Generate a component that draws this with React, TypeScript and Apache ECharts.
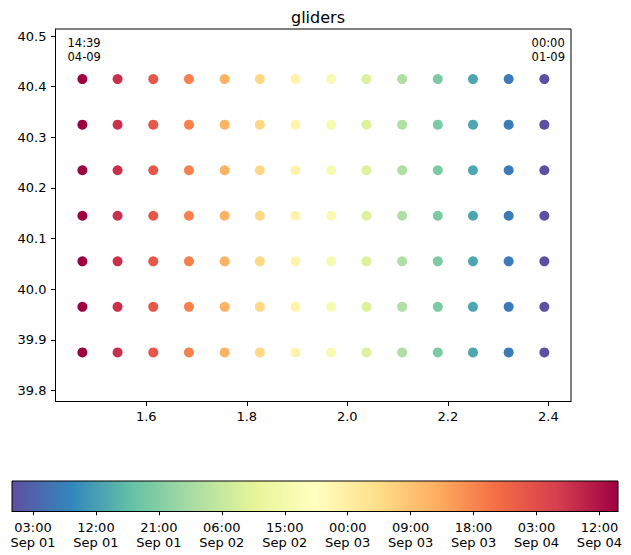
import React, { useEffect, useRef } from "react";
import * as echarts from "echarts";

// ---- data ----
const lons = [1.473, 1.543, 1.614, 1.685, 1.756, 1.826, 1.897, 1.968, 2.038, 2.109, 2.18, 2.25, 2.321, 2.392];
const lats = [39.875, 39.965, 40.055, 40.145, 40.235, 40.325, 40.415];
// time of each column (left to right)
const colTimes = [
  "Sep 04 14:39", "Sep 04 07:59", "Sep 04 01:19", "Sep 03 18:39", "Sep 03 11:59", "Sep 03 05:19", "Sep 02 22:40",
  "Sep 02 15:59", "Sep 02 09:20", "Sep 02 02:40", "Sep 01 20:00", "Sep 01 13:20", "Sep 01 06:40", "Sep 01 00:00",
];
const timeMin = "Sep 01 00:00";
const timeMax = "Sep 04 14:39";
const xTicks = [1.6, 1.8, 2.0, 2.2, 2.4];
const yTicks = [39.8, 39.9, 40.0, 40.1, 40.2, 40.3, 40.4, 40.5];
const cbTickTimes = [
  "Sep 01 03:00", "Sep 01 12:00", "Sep 01 21:00", "Sep 02 06:00", "Sep 02 15:00",
  "Sep 03 00:00", "Sep 03 09:00", "Sep 03 18:00", "Sep 04 03:00", "Sep 04 12:00",
];
const cbTickLabels = [
  "03:00\nSep 01", "12:00\nSep 01", "21:00\nSep 01", "06:00\nSep 02", "15:00\nSep 02",
  "00:00\nSep 03", "09:00\nSep 03", "18:00\nSep 03", "03:00\nSep 04", "12:00\nSep 04",
];
const titleText = "gliders";
const leftCornerLabel = "14:39\n04-09";
const rightCornerLabel = "00:00\n01-09";
const spectralR = [
  "#5e4fa2", "#3288bd", "#66c2a5", "#abdda4", "#e6f598", "#ffffbf",
  "#fee08b", "#fdae61", "#f46d43", "#d53e4f", "#9e0142",
];

function hoursSinceStart(s: string): number {
  const parts = s.split(" ");
  const day = Number(parts[1]);
  const [h, m] = parts[2].split(":").map(Number);
  return (day - 1) * 24 + h + m / 60;
}

const FONT = "DejaVu Sans";

export default function App() {
  const ref = useRef<HTMLDivElement>(null);
  useEffect(() => {
    if (!ref.current) return;
    const chart = echarts.init(ref.current, null, { renderer: "svg" });
    const tMin = hoursSinceStart(timeMin);
    const tMax = hoursSinceStart(timeMax);
    const cbHours = cbTickTimes.map(hoursSinceStart);

    const points: number[][] = [];
    lats.forEach((lat) => {
      lons.forEach((lon, i) => {
        points.push([lon, lat, hoursSinceStart(colTimes[i])]);
      });
    });

    const gradStops = spectralR.map((c, i) => ({ offset: i / (spectralR.length - 1), color: c }));

    chart.setOption({
      animation: false,
      backgroundColor: "#fff",
      title: {
        text: titleText,
        left: 313,
        textAlign: "center",
        top: 4,
        textStyle: { fontFamily: FONT, fontSize: 16, fontWeight: "normal", color: "#000" },
      },
      grid: [
        { left: 55.5, top: 29, width: 515.5, height: 372.5, show: true, borderColor: "#000", borderWidth: 1, backgroundColor: "transparent" },
        { left: 12, top: 481, width: 606, height: 30.5, show: false },
      ],
      xAxis: [
        {
          gridIndex: 0,
          type: "value",
          min: 1.4195,
          max: 2.445,
          axisLine: { show: true, lineStyle: { color: "#000", width: 1 } },
          axisTick: { show: true, length: 4.5, customValues: xTicks, lineStyle: { color: "#000" } },
          axisLabel: {
            customValues: xTicks,
            formatter: (v: number) => v.toFixed(1),
            fontFamily: FONT,
            fontSize: 13,
            color: "#000",
            margin: 8,
          },
          splitLine: { show: false },
        },
        {
          gridIndex: 1,
          type: "value",
          min: tMin,
          max: tMax,
          axisLine: { show: true, lineStyle: { color: "#000", width: 1 } },
          axisTick: { show: true, length: 3.7, customValues: cbHours, lineStyle: { color: "#000" } },
          axisLabel: {
            customValues: cbHours,
            formatter: (v: number) => {
              const idx = cbHours.findIndex((h) => Math.abs(h - v) < 1e-6);
              return idx >= 0 ? cbTickLabels[idx] : "";
            },
            fontFamily: FONT,
            fontSize: 13,
            lineHeight: 15.5,
            color: "#000",
            margin: 8,
          },
          splitLine: { show: false },
        },
      ],
      yAxis: [
        {
          gridIndex: 0,
          type: "value",
          min: 39.778,
          max: 40.514,
          axisLine: { show: true, lineStyle: { color: "#000", width: 1 } },
          axisTick: { show: true, length: 4.5, customValues: yTicks, lineStyle: { color: "#000" } },
          axisLabel: {
            customValues: yTicks,
            formatter: (v: number) => v.toFixed(1),
            fontFamily: FONT,
            fontSize: 13,
            color: "#000",
            margin: 9,
          },
          splitLine: { show: false },
        },
        {
          gridIndex: 1,
          type: "value",
          min: 0,
          max: 1,
          show: false,
        },
      ],
      visualMap: {
        type: "continuous",
        show: false,
        min: tMin,
        max: tMax,
        dimension: 2,
        seriesIndex: 0,
        inRange: { color: spectralR },
      },
      series: [
        {
          type: "scatter",
          xAxisIndex: 0,
          yAxisIndex: 0,
          symbolSize: 10,
          data: points,
          itemStyle: { opacity: 1 },
        },
        {
          type: "custom",
          xAxisIndex: 1,
          yAxisIndex: 1,
          data: [[tMin, tMax]],
          encode: { x: [0, 1] },
          renderItem: (params: any, api: any) => {
            const p0 = api.coord([api.value(0), 0]);
            const p1 = api.coord([api.value(1), 1]);
            return {
              type: "rect",
              shape: { x: p0[0], y: p1[1], width: p1[0] - p0[0], height: p0[1] - p1[1] },
              style: {
                fill: new echarts.graphic.LinearGradient(0, 0, 1, 0, gradStops),
                stroke: "#000",
                lineWidth: 1,
              },
            };
          },
        },
      ],
      graphic: [
        {
          type: "text",
          left: 67.5,
          top: 36,
          style: { text: leftCornerLabel, font: `11.5px "${FONT}"`, lineHeight: 14, fill: "#000", align: "left" },
        },
        {
          type: "text",
          right: 66,
          top: 36,
          style: { text: rightCornerLabel, font: `11.5px "${FONT}"`, lineHeight: 14, fill: "#000", align: "right" },
        },
      ],
    });
    return () => chart.dispose();
  }, []);
  return <div ref={ref} style={{ position: "fixed", left: 0, top: 0, width: 631, height: 555 }} />;
}
